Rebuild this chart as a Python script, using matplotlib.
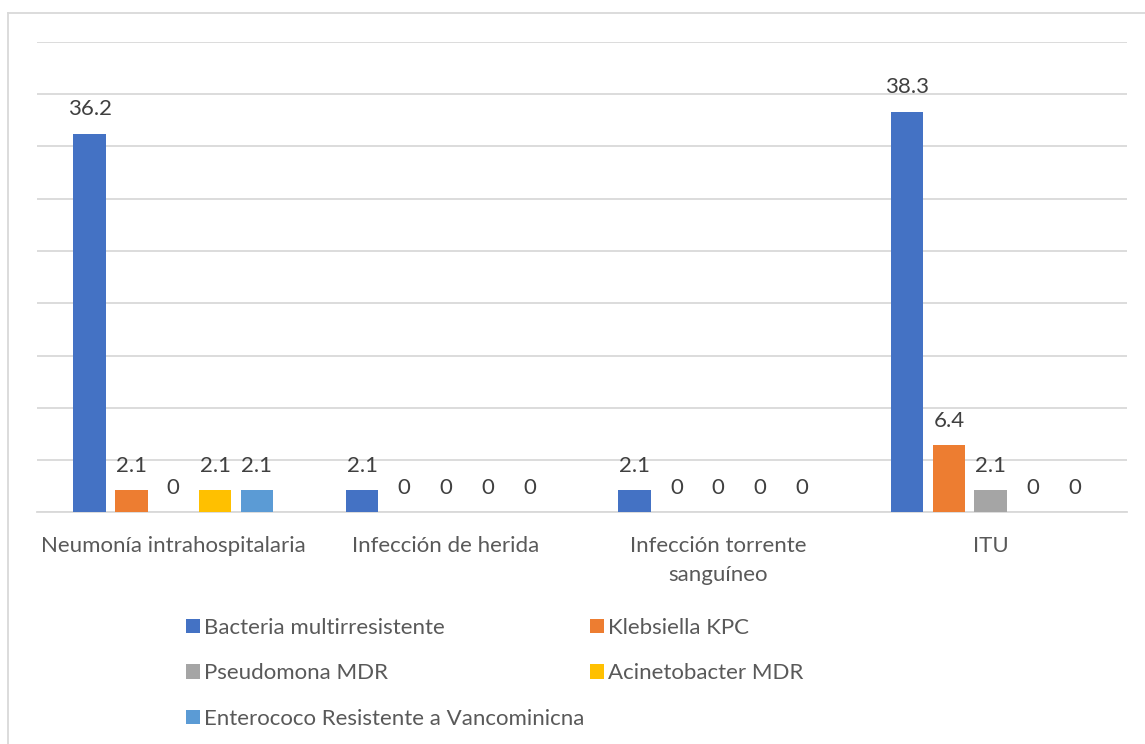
import numpy as np
import matplotlib

matplotlib.use('Agg')

import matplotlib.pyplot as plt
from matplotlib.lines import Line2D

categories = ["Neumonía intrahospitalaria", "Infección de herida",
              "Infección torrente\nsanguíneo", "ITU"]
series = ["Bacteria multirresistente", "Klebsiella KPC", "Pseudomona MDR",
          "Acinetobacter MDR", "Enterococo Resistente a Vancominicna"]
bacteria = [36.2, 2.1, 2.1, 38.3]
klebsiella = [2.1, 0, 0, 6.4]
pseudomona = [0, 0, 0, 2.1]
acinetobacter = [2.1, 0, 0, 0]
enterococo = [2.1, 0, 0, 0]
colors = ["#4472C4", "#ED7D31", "#A5A5A5", "#FFC000", "#5B9BD5"]

values = [bacteria, klebsiella, pseudomona, acinetobacter, enterococo]

plt.rcParams['font.family'] = ['Lato', 'DejaVu Sans']
FS = 16

W, H = 1145, 744
fig = plt.figure(figsize=(W / 100, H / 100), dpi=100)
ax = fig.add_axes([37 / W, 1 - 512.4 / H, 1090 / W, (512.4 - 41.7) / H])

# outer chart frame (left and top edges visible)
fig.add_artist(Line2D([7.5 / W, 7.5 / W], [0, 1 - 12.5 / H], color="#D9D9D9", lw=1.3))
fig.add_artist(Line2D([7.5 / W, 1], [1 - 12.5 / H, 1 - 12.5 / H], color="#D9D9D9", lw=1.3))

x = np.arange(len(categories))
step = 0.1534
width = 0.1193
for i, (name, vals) in enumerate(zip(series, values)):
    pos = x + (i - 2) * step
    ax.bar(pos, vals, width, color=colors[i], label=name, zorder=3)
    for p, v in zip(pos, vals):
        ax.annotate("%g" % v, (p, v), xytext=(0, 17.5), textcoords='offset points',
                    ha='center', va='center', fontsize=FS, color="#404040")

ax.set_xlim(-0.5, len(categories) - 0.5)
ax.set_ylim(0, 45)
ax.set_yticks(np.arange(0, 46, 5))
ax.yaxis.grid(True, color="#D9D9D9", lw=1.3, zorder=0)
ax.tick_params(axis='y', length=0, labelleft=False)
ax.tick_params(axis='x', length=0, pad=17, labelsize=FS, labelcolor="#595959")
ax.set_xticks(x)
ax.set_xticklabels(categories, linespacing=1.59, va='top')
for s in ['top', 'right', 'left']:
    ax.spines[s].set_visible(False)
ax.spines['bottom'].set_color("#D9D9D9")
ax.spines['bottom'].set_linewidth(1.3)

# legend in two columns, filled row by row
handles, labels = ax.get_legend_handles_labels()
leg_kw = dict(loc='upper left', frameon=False, fontsize=FS, labelcolor="#595959",
              handlelength=0.63, handleheight=0.63, handletextpad=0.2,
              labelspacing=1.14, borderpad=0, borderaxespad=0)
leg1 = fig.legend([handles[k] for k in (0, 2, 4)], [labels[k] for k in (0, 2, 4)],
                  bbox_to_anchor=(186 / W, 1 - 618 / H), **leg_kw)
leg2 = fig.legend([handles[k] for k in (1, 3)], [labels[k] for k in (1, 3)],
                  bbox_to_anchor=(590 / W, 1 - 618 / H), **leg_kw)

fig.savefig("out.png", dpi=100)
